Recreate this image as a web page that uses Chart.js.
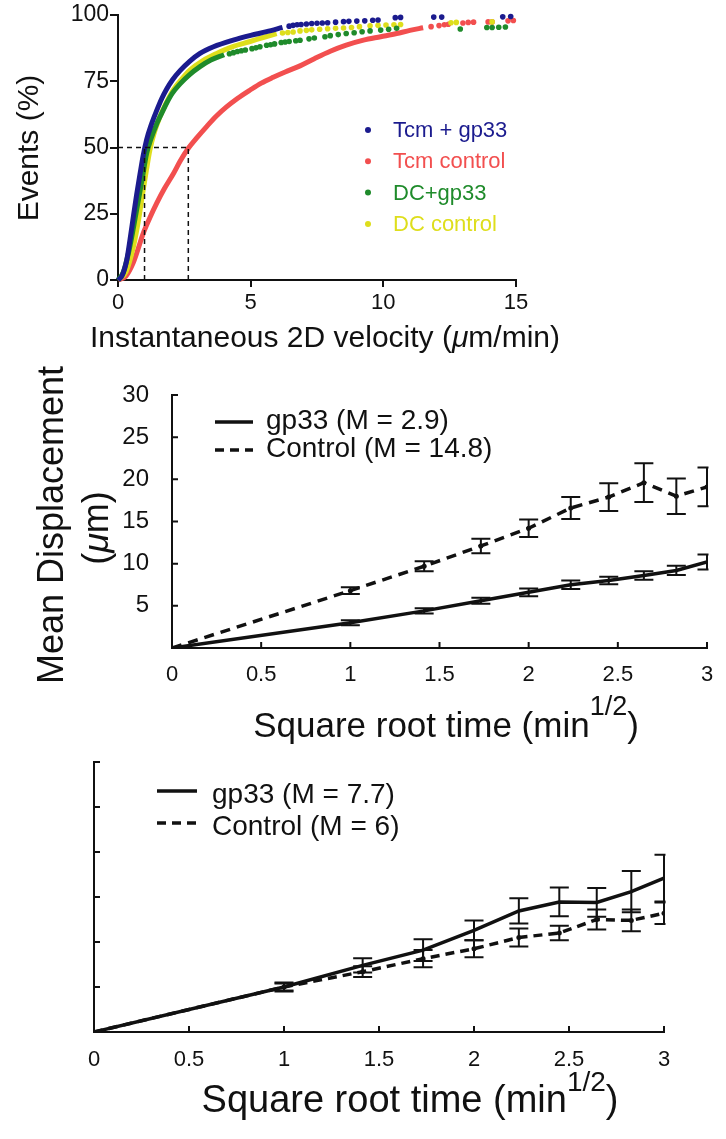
<!DOCTYPE html>
<html>
<head>
<meta charset="utf-8">
<title>Velocity and displacement</title>
<script src="https://cdn.jsdelivr.net/npm/chart.js@4.4.1/dist/chart.umd.min.js"></script>
<style>
  html, body { margin: 0; padding: 0; background: #fff; }
  #wrap { position: relative; width: 726px; height: 1139px; overflow: hidden; }
  #wrap canvas { position: absolute; left: 0; top: 0; }
</style>
</head>
<body>
<div id="wrap">
  <canvas id="velChart" width="726" height="1139"></canvas>
  <canvas id="dispChart" width="726" height="1139"></canvas>
  <canvas id="dispChart2" width="726" height="1139"></canvas>
</div>
<script>
// ---- top panel: cumulative events (%) vs instantaneous 2D velocity ----
var velTicks = [0, 5, 10, 15];
var pctTicks = [0, 25, 50, 75, 100];
var seriesNames = ['Tcm + gp33', 'Tcm control', 'DC+gp33', 'DC control'];

// dense part of each curve, [velocity, %]
var tcmGp33Curve = [[0,0],[0.15,1.5],[0.33,7.5],[0.45,15],[0.58,24],[0.7,32],[0.83,40],[0.95,47],[1.08,53],[1.25,58.5],[1.46,64],[1.65,68.5],[1.83,72],[2.05,75.5],[2.34,79],[2.7,82.5],[3.09,85.5],[3.6,88],[4.34,90.5],[5.0,92.3],[5.6,93.7],[6.2,95.3]];
var tcmCtrlCurve = [[0,0],[0.3,1.5],[0.57,6.4],[0.75,11.5],[0.95,17.6],[1.2,23.5],[1.46,29],[1.75,34.5],[2.08,40],[2.35,45],[2.65,49.7],[3.0,54],[3.34,57.9],[3.7,61.8],[4.1,65.4],[4.5,68.5],[4.98,71.7],[5.4,74.3],[5.85,76.5],[6.3,78.5],[6.86,80.8],[7.4,83.5],[8.0,86.3],[8.6,88.6],[9.25,90.5],[9.9,91.8],[10.5,93],[11.0,94.2],[11.5,95.2]];
var dcGp33Curve = [[0,0],[0.2,3],[0.39,10],[0.55,18],[0.7,26.4],[0.9,37.5],[1.08,47.8],[1.25,53.5],[1.46,59],[1.65,63],[1.83,66.7],[2.05,70.5],[2.34,74],[2.7,77.5],[3.09,80.5],[3.5,83],[4.0,85]];
var dcCtrlCurve = [[0,0],[0.3,3],[0.58,12.6],[0.78,23],[0.95,34],[1.08,42],[1.2,49],[1.38,56],[1.58,61.6],[1.8,66.5],[2.08,71.7],[2.4,75.8],[2.71,79.2],[3.2,82.8],[3.72,85.5],[4.3,88],[4.98,90],[5.5,91.6],[5.98,93]];

// sparse tail of each curve, single events
var tcmGp33Dots = [[6.45,95.8],[6.6,96.1],[6.75,96.3],[6.9,96.4],[7.1,96.6],[7.3,96.8],[7.5,96.9],[7.7,97.0],[7.9,97.1],[8.2,97.3],[8.5,97.5],[8.7,97.6],[9.0,97.7],[9.3,97.8],[9.6,98.0],[9.8,98.1],[10.45,99],[10.65,99.1],[11.9,99.2],[12.2,99.2],[14.5,99.3],[14.8,99.4]];
var tcmCtrlDots = [[11.8,95.6],[12.1,96.0],[12.3,96.3],[12.45,96.5],[13.0,97.0],[13.2,97.2],[13.4,97.3],[13.95,97.4],[14.1,97.4],[14.7,97.8],[14.9,97.9]];
var dcGp33Dots = [[4.2,85.4],[4.35,85.8],[4.5,86.2],[4.65,86.5],[4.8,86.8],[5.05,87.3],[5.2,87.6],[5.35,88.0],[5.6,88.6],[5.75,88.8],[5.9,89.1],[6.15,89.6],[6.3,89.8],[6.45,90.0],[6.7,90.3],[6.86,90.5],[7.2,91.0],[7.4,91.3],[7.8,91.8],[8.0,92.2],[8.3,92.6],[8.6,93.0],[8.9,93.3],[9.2,93.7],[9.5,94.0],[9.9,94.3],[10.2,94.6],[10.5,95.0],[12.9,94.7],[13.9,95.3],[14.1,95.3],[14.35,95.4],[14.6,95.5]];
var dcCtrlDots = [[6.2,93.2],[6.4,93.4],[6.6,93.6],[6.86,94.0],[7.1,94.2],[7.3,94.4],[7.6,94.6],[7.9,94.8],[8.2,95.0],[8.5,95.1],[8.8,95.3],[9.1,95.6],[9.5,95.9],[9.8,96.1],[10.1,96.2],[10.4,96.3],[10.65,96.4],[12.55,97.1],[12.75,97.2],[14.1,97.4]];

// medians of Tcm + gp33 and Tcm control (dashed guides at 50 %)
var medianVel = [1.0, 2.65];

// ---- middle and bottom panels: mean displacement vs sqrt(time) ----
var sqrtTime = [0, 1, 1.414, 1.732, 2, 2.236, 2.449, 2.646, 2.828, 3];
var timeTicks = [0, 0.5, 1, 1.5, 2, 2.5, 3];
var dispTicks = [0, 5, 10, 15, 20, 25, 30];

var gp33Disp = [0, 3.0, 4.4, 5.6, 6.6, 7.5, 8.0, 8.6, 9.2, 10.2];
var gp33Sem  = [0, 0.3, 0.3, 0.35, 0.45, 0.5, 0.45, 0.5, 0.55, 0.9];
var ctrlDisp = [0, 6.8, 9.7, 12.1, 14.2, 16.6, 17.9, 19.6, 18.0, 19.1];
var ctrlSem  = [0, 0.4, 0.6, 0.85, 1.05, 1.3, 1.65, 2.3, 2.1, 2.3];
var legendMid = ['gp33 (M = 2.9)', 'Control (M = 14.8)'];

var gp33Disp2 = [0, 5.0, 7.4, 9.1, 11.3, 13.45, 14.45, 14.4, 15.6, 17.1];
var gp33Sem2  = [0, 0.5, 0.8, 1.2, 1.1, 1.4, 1.6, 1.6, 2.3, 2.6];
var ctrlDisp2 = [0, 5.0, 6.7, 8.15, 9.25, 10.5, 11.0, 12.5, 12.4, 13.2];
var ctrlSem2  = [0, 0.4, 0.6, 0.95, 0.95, 1.0, 0.8, 1.1, 1.2, 1.2];
var legendBot = ['gp33 (M = 7.7)', 'Control (M = 6)'];

var seriesColors = ['#1b1b8e', '#f24f4f', '#1f8b2b', '#dede1c'];
var INK = '#111';
var FONT = '"Liberation Sans", Arial, Helvetica, sans-serif';

Chart.defaults.font.family = FONT;
Chart.defaults.color = INK;

function pts(pairs) {
  return pairs.map(function (p) { return { x: p[0], y: p[1] }; });
}
function zipXY(xs, ys) {
  return xs.map(function (x, i) { return { x: x, y: ys[i] }; });
}
function tickSetter(arr) {
  return function (scale) { scale.ticks = arr.map(function (v) { return { value: v }; }); };
}

// free text: titles with mixed fonts / superscripts, optionally rotated
function textPlugin(items) {
  return {
    id: 'freeText',
    afterDraw: function (chart) {
      var ctx = chart.ctx;
      items.forEach(function (it) {
        ctx.save();
        ctx.translate(it.x, it.y);
        if (it.rot) ctx.rotate(it.rot);
        var total = 0;
        it.segs.forEach(function (s) { ctx.font = s.font; total += ctx.measureText(s.t).width; });
        var cx = -total / 2;
        ctx.textAlign = 'left';
        ctx.textBaseline = 'alphabetic';
        it.segs.forEach(function (s) {
          ctx.font = s.font;
          ctx.fillStyle = INK;
          ctx.fillText(s.t, cx, s.dy || 0);
          cx += ctx.measureText(s.t).width;
        });
        ctx.restore();
      });
    }
  };
}

// legend drawn inside the plot
function keyPlugin(cfg) {
  return {
    id: 'key',
    afterDraw: function (chart) {
      var ctx = chart.ctx;
      ctx.save();
      cfg.rows.forEach(function (r, i) {
        var y = cfg.y + i * cfg.gap;
        ctx.fillStyle = r.color;
        ctx.strokeStyle = r.color;
        if (r.dot) {
          ctx.beginPath();
          ctx.arc(cfg.x, y, 3, 0, Math.PI * 2);
          ctx.fill();
        } else {
          ctx.lineWidth = 3.5;
          ctx.setLineDash(r.dash || []);
          ctx.beginPath();
          ctx.moveTo(cfg.x, y);
          ctx.lineTo(cfg.x + cfg.len, y);
          ctx.stroke();
          ctx.setLineDash([]);
        }
        ctx.font = cfg.font;
        ctx.textBaseline = 'alphabetic';
        ctx.textAlign = 'left';
        ctx.fillText(r.label, cfg.tx, y + cfg.dy);
      });
      ctx.restore();
    }
  };
}

// SEM error bars, clipped at the plot edge like the original
function semPlugin(sets, cap) {
  return {
    id: 'sem',
    afterDatasetsDraw: function (chart) {
      var ctx = chart.ctx, xs = chart.scales.x, ys = chart.scales.y, a = chart.chartArea;
      ctx.save();
      ctx.beginPath();
      ctx.rect(a.left, a.top - 30, a.right - a.left + 1.5, a.bottom - a.top + 30);
      ctx.clip();
      ctx.strokeStyle = INK;
      ctx.lineWidth = 2;
      sets.forEach(function (s) {
        s.x.forEach(function (x, i) {
          if (!s.err[i]) return;
          var px = xs.getPixelForValue(x);
          var top = ys.getPixelForValue(s.y[i] + s.err[i]);
          var bot = ys.getPixelForValue(s.y[i] - s.err[i]);
          ctx.beginPath();
          ctx.moveTo(px, top); ctx.lineTo(px, bot);
          ctx.moveTo(px - cap, top); ctx.lineTo(px + cap, top);
          ctx.moveTo(px - cap, bot); ctx.lineTo(px + cap, bot);
          ctx.stroke();
        });
      });
      ctx.restore();
    }
  };
}

// tick marks pointing into the plot
function innerTicks(len) {
  return {
    id: 'innerTicks',
    afterDraw: function (chart) {
      var ctx = chart.ctx, xs = chart.scales.x, ys = chart.scales.y;
      ctx.save();
      ctx.strokeStyle = INK;
      ctx.lineWidth = 2;
      ctx.beginPath();
      xs.ticks.forEach(function (t) {
        var px = xs.getPixelForValue(t.value);
        ctx.moveTo(px, xs.top); ctx.lineTo(px, xs.top - len);
      });
      ys.ticks.forEach(function (t) {
        var py = ys.getPixelForValue(t.value);
        ctx.moveTo(ys.right, py); ctx.lineTo(ys.right + len, py);
      });
      ctx.stroke();
      ctx.restore();
    }
  };
}

// ================= top chart =================
var curves = [tcmGp33Curve, tcmCtrlCurve, dcGp33Curve, dcCtrlCurve];
var tails = [tcmGp33Dots, tcmCtrlDots, dcGp33Dots, dcCtrlDots];
var drawOrder = [0, 2, 3, 1]; // blue on top, red underneath
var velDatasets = [];

velDatasets.push({
  label: 'guide50',
  data: [{ x: 0, y: 50 }, { x: medianVel[1], y: 50 }],
  showLine: true, pointRadius: 0, borderColor: INK, borderWidth: 1.5, borderDash: [5, 4], order: 0
});
medianVel.forEach(function (v) {
  velDatasets.push({
    label: 'median',
    data: [{ x: v, y: 0 }, { x: v, y: 50 }],
    showLine: true, pointRadius: 0, borderColor: INK, borderWidth: 1.5, borderDash: [5, 4], order: 0
  });
});
drawOrder.forEach(function (k, n) {
  velDatasets.push({
    label: seriesNames[k],
    data: pts(curves[k]),
    showLine: true, pointRadius: 0, borderColor: seriesColors[k], borderWidth: 5,
    cubicInterpolationMode: 'monotone', order: n + 1, clip: 6
  });
  velDatasets.push({
    label: seriesNames[k] + ' tail',
    data: pts(tails[k]),
    showLine: false, pointRadius: 2.8, pointBorderWidth: 0,
    backgroundColor: seriesColors[k], borderColor: seriesColors[k], order: n + 1, clip: 6
  });
});

new Chart(document.getElementById('velChart'), {
  type: 'scatter',
  data: { datasets: velDatasets },
  options: {
    responsive: false,
    animation: false,
    events: [],
    layout: { padding: { left: 0, top: 15, right: 210, bottom: 819 } },
    plugins: { legend: { display: false }, tooltip: { enabled: false } },
    scales: {
      x: {
        type: 'linear', min: 0, max: 15,
        afterBuildTicks: tickSetter(velTicks),
        afterFit: function (s) { s.height = 40; },
        grid: { display: true, drawOnChartArea: false, drawTicks: true, tickLength: 7, lineWidth: 2, color: INK },
        border: { display: true, color: INK, width: 2 },
        ticks: { padding: 3, maxRotation: 0, font: { size: 22 }, color: INK }
      },
      y: {
        type: 'linear', min: 0, max: 100,
        afterBuildTicks: tickSetter(pctTicks),
        afterFit: function (s) { s.width = 118; },
        grid: { display: true, drawOnChartArea: false, drawTicks: true, tickLength: 8, lineWidth: 2, color: INK },
        border: { display: true, color: INK, width: 2 },
        ticks: { padding: 1, font: { size: 23 }, color: INK }
      }
    }
  },
  plugins: [
    textPlugin([
      { x: 38, y: 148, rot: -Math.PI / 2, segs: [{ t: 'Events (%)', font: '30px ' + FONT }] },
      { x: 325, y: 347, segs: [
        { t: 'Instantaneous 2D velocity (', font: '30px ' + FONT },
        { t: '\u03bc', font: 'italic 30px ' + FONT },
        { t: 'm/min)', font: '30px ' + FONT }
      ] }
    ]),
    keyPlugin({
      x: 368, tx: 393, y: 130, gap: 31.3, dy: 7, font: '22px ' + FONT,
      rows: seriesNames.map(function (n, i) { return { label: n, color: seriesColors[i], dot: true }; })
    })
  ]
});

// ================= middle / bottom charts =================
function dispChart(id, gp, gpErr, ct, ctErr, pad, yWidth, labelsY, xPad, dash, legendCfg, title) {
  return new Chart(document.getElementById(id), {
    type: 'scatter',
    data: {
      datasets: [
        { label: 'gp33', data: zipXY(sqrtTime, gp), showLine: true, pointRadius: 0,
          borderColor: INK, borderWidth: 3.5 },
        { label: 'Control', data: zipXY(sqrtTime, ct), showLine: true, pointRadius: 2.5, pointBorderWidth: 0,
          backgroundColor: INK, borderColor: INK, borderWidth: 3.5, borderDash: dash }
      ]
    },
    options: {
      responsive: false,
      animation: false,
      events: [],
      layout: { padding: pad },
      plugins: { legend: { display: false }, tooltip: { enabled: false } },
      scales: {
        x: {
          type: 'linear', min: 0, max: 3,
          afterBuildTicks: tickSetter(timeTicks),
          afterFit: function (s) { s.height = 40; },
          grid: { display: false },
          border: { display: true, color: INK, width: 2 },
          ticks: {
            padding: xPad, maxRotation: 0, font: { size: 22 }, color: INK,
            callback: function (v) { return String(v); }
          }
        },
        y: {
          type: 'linear', min: 0, max: 30,
          afterBuildTicks: tickSetter(dispTicks),
          afterFit: function (s) { s.width = yWidth; },
          grid: { display: false },
          border: { display: true, color: INK, width: 2 },
          ticks: {
            display: labelsY, padding: 15, font: { size: 24 }, color: INK,
            callback: function (v) { return v === 0 ? '' : v; }
          }
        }
      }
    },
    plugins: [
      semPlugin([{ x: sqrtTime, y: gp, err: gpErr }, { x: sqrtTime, y: ct, err: ctErr }], 9.5),
      innerTicks(6),
      keyPlugin(legendCfg),
      textPlugin(title)
    ]
  });
}

dispChart('dispChart', gp33Disp, gp33Sem, ctrlDisp, ctrlSem,
  { left: 0, top: 395, right: 19, bottom: 451 }, 172, true, 6, [10, 7],
  { x: 215, len: 38, tx: 266, y: 422, gap: 28, dy: 7, font: '28px ' + FONT,
    rows: [{ label: legendMid[0], color: INK }, { label: legendMid[1], color: INK, dash: [9, 6] }] },
  [
    { x: 63, y: 525, rot: -Math.PI / 2, segs: [{ t: 'Mean Displacement', font: '36px ' + FONT }] },
    { x: 108, y: 528, rot: -Math.PI / 2, segs: [
      { t: '(', font: '36px ' + FONT }, { t: '\u03bc', font: 'italic 36px ' + FONT }, { t: 'm)', font: '36px ' + FONT }
    ] },
    { x: 446, y: 737, segs: [
      { t: 'Square root time (min', font: '35px ' + FONT },
      { t: '1/2', font: '27px ' + FONT, dy: -22 },
      { t: ')', font: '35px ' + FONT }
    ] }
  ]);

dispChart('dispChart2', gp33Disp2, gp33Sem2, ctrlDisp2, ctrlSem2,
  { left: 0, top: 762, right: 62, bottom: 67 }, 94, false, 7, [9, 6],
  { x: 157, len: 40, tx: 212, y: 791, gap: 32, dy: 12, font: '28px ' + FONT,
    rows: [{ label: legendBot[0], color: INK }, { label: legendBot[1], color: INK, dash: [9, 6] }] },
  [
    { x: 410, y: 1112, segs: [
      { t: 'Square root time (min', font: '38px ' + FONT },
      { t: '1/2', font: '28px ' + FONT, dy: -21 },
      { t: ')', font: '38px ' + FONT }
    ] }
  ]);
</script>
</body>
</html>
